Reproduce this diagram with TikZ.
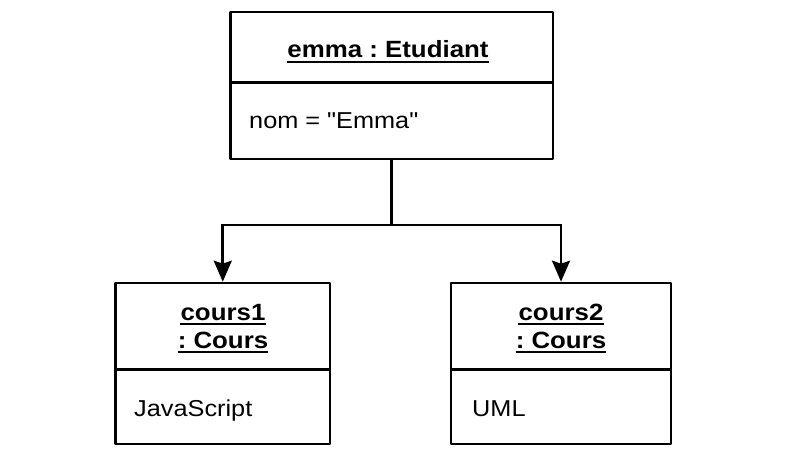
\documentclass[tikz,border=0pt]{standalone}
\usepackage{fontspec}
\setmainfont[FakeStretch=1.1,Ligatures=TeXOff]{Liberation Sans}
\usetikzlibrary{arrows.meta}
\frenchspacing
\begin{document}
\begin{tikzpicture}[x=1pt,y=-1pt,
  box/.style={draw=black, line width=2.6pt, rectangle, inner sep=0pt, line join=round},
  divider/.style={line width=2.6pt},
  title/.style={inner sep=0pt, anchor=base, font=\fontsize{23.5}{28}\selectfont\bfseries},
  attr/.style={inner sep=0pt, anchor=base west, font=\fontsize{23}{28}\selectfont},
  ul/.style={line width=2pt},
  conn/.style={line width=2.6pt, -{Stealth[length=21pt,width=18pt,inset=3pt]}}]
\useasboundingbox[fill=white] (0,0) rectangle (800,457);

% boxes
\node[box, minimum width=322.5pt, minimum height=147pt] (etu) at (391.75,85.5) {};
\node[box, minimum width=214.5pt, minimum height=161pt] (c1) at (222.75,363.5) {};
\node[box, minimum width=220pt, minimum height=161pt] (c2) at (561,363.5) {};

% dividers
\draw[divider] ([yshift=-72pt]etu.north west) -- ([yshift=-72pt]etu.north east);
\draw[divider] ([yshift=-88pt]c1.north west) -- ([yshift=-88pt]c1.north east);
\draw[divider] ([yshift=-88pt]c2.north west) -- ([yshift=-88pt]c2.north east);

% titles
\node[title] (t0) at (388,58) {emma : Etudiant};
\draw[ul] ([yshift=-4pt]t0.base west) -- ([yshift=-4pt]t0.base east);

\node[title] (t1a) at (223,320) {cours1};
\draw[ul] ([yshift=-4pt]t1a.base west) -- ([yshift=-4pt]t1a.base east);
\node[title] (t1b) at (223,348) {: Cours};
\draw[ul] ([yshift=-4pt]t1b.base west) -- ([yshift=-4pt]t1b.base east);

\node[title] (t2a) at (561,320) {cours2};
\draw[ul] ([yshift=-4pt]t2a.base west) -- ([yshift=-4pt]t2a.base east);
\node[title] (t2b) at (561,348) {: Cours};
\draw[ul] ([yshift=-4pt]t2b.base west) -- ([yshift=-4pt]t2b.base east);

% attributes
\node[attr] (a0) at (249,129) {nom = "Emma"};
\node[attr] (a1) at (134,416) {JavaScript};
\node[attr] (a2) at (472,416) {UML};

% connectors
\coordinate (j) at (391.75,225);
\draw[line width=2.6pt] (etu.south) -- (j);
\draw[conn] (j) -| (c1.north);
\draw[conn] (j) -| (c2.north);
\end{tikzpicture}
\end{document}
